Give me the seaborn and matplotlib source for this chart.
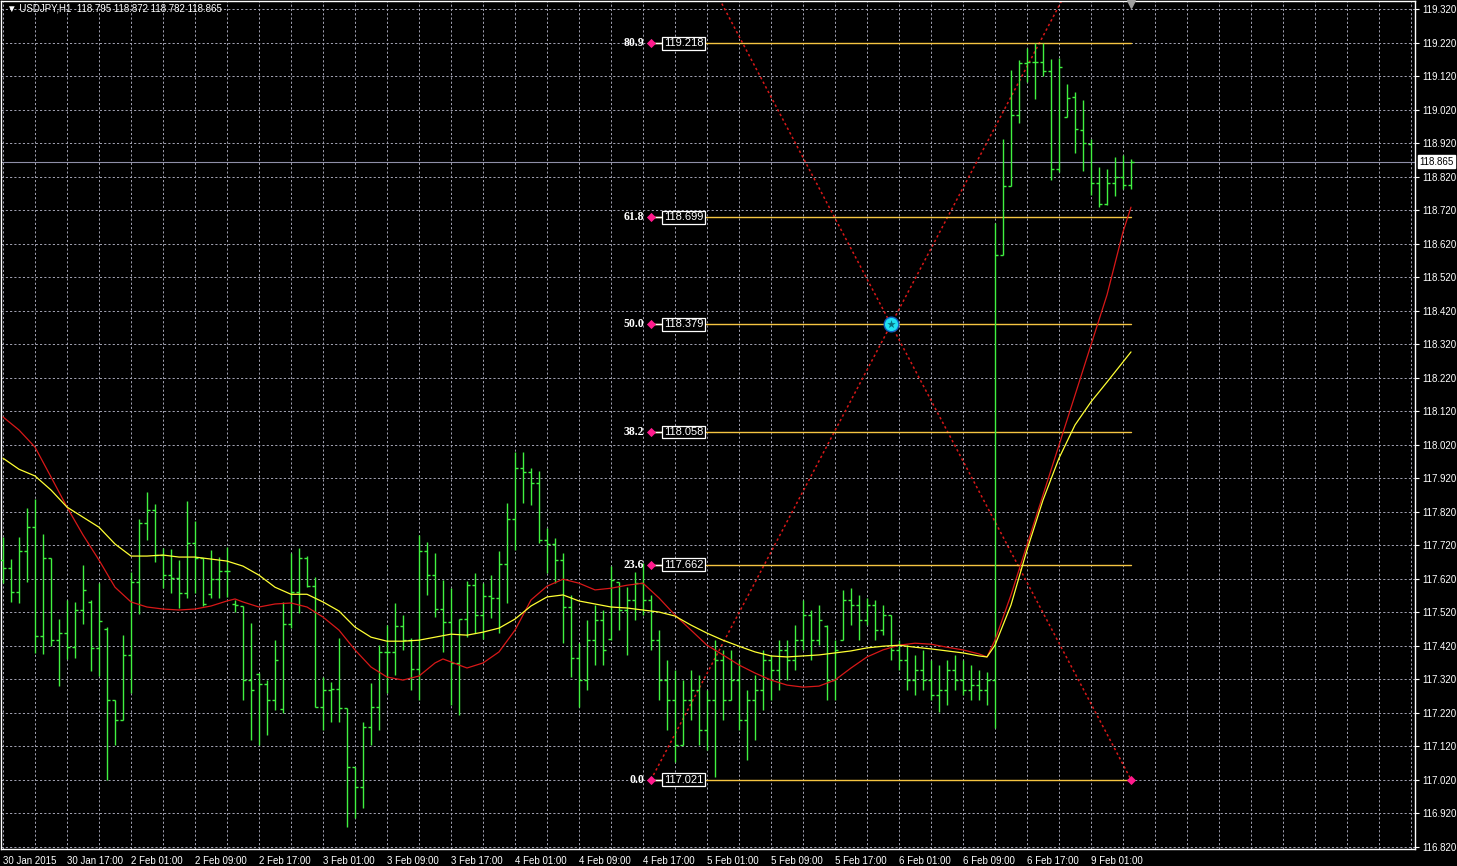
import numpy as np
import pandas as pd
import matplotlib
matplotlib.use('Agg')
import matplotlib.pyplot as plt
import seaborn as sns

# === Data: USDJPY H1 bars, index 0 = 30 Jan 2015 09:00 === #
open_ = [117.676, 117.652, 117.581, 117.703, 117.775, 117.449, 117.682, 117.437, 117.458, 117.416,
         117.527, 117.550, 117.413, 117.470, 117.258, 117.199, 117.393, 117.610, 117.786, 117.825,
         117.691, 117.631, 117.622, 117.578, 117.727, 117.682, 117.575, 117.619, 117.643, 117.545,
         117.539, 117.318, 117.336, 117.306, 117.258, 117.232, 117.485, 117.581, 117.682, 117.598,
         117.238, 117.288, 117.291, 117.235, 117.059, 116.999, 117.178, 117.238, 117.402, 117.402,
         117.479, 117.437, 117.351, 117.703, 117.631, 117.530, 117.491, 117.369, 117.500, 117.601,
         117.512, 117.569, 117.563, 117.664, 117.798, 117.950, 117.938, 117.906, 117.736, 117.724,
         117.676, 117.536, 117.384, 117.318, 117.437, 117.497, 117.440, 117.610, 117.527, 117.557,
         117.607, 117.557, 117.437, 117.318, 117.258, 117.124, 117.258, 117.288, 117.169, 117.258,
         117.378, 117.258, 117.318, 117.199, 117.258, 117.288, 117.378, 117.348, 117.408, 117.378,
         117.437, 117.512, 117.437, 117.480, 117.318, 117.437, 117.557, 117.542, 117.497, 117.542,
         117.467, 117.512, 117.408, 117.378, 117.318, 117.348, 117.318, 117.273, 117.288, 117.348,
         117.318, 117.288, 117.303, 117.288, 117.318, 118.586, 118.792, 119.004, 119.159, 119.162,
         119.162, 119.135, 118.843, 118.998, 119.058, 118.959, 118.917, 118.801, 118.738, 118.801,
         118.819, 118.795]
high = [117.745, 117.679, 117.745, 117.831, 117.858, 117.754, 117.682, 117.500, 117.557, 117.551,
        117.661, 117.557, 117.607, 117.476, 117.258, 117.452, 117.640, 117.798, 117.879, 117.843,
        117.712, 117.709, 117.676, 117.852, 117.792, 117.682, 117.706, 117.685, 117.715, 117.557,
        117.539, 117.488, 117.339, 117.318, 117.437, 117.551, 117.697, 117.712, 117.688, 117.625,
        117.327, 117.312, 117.443, 117.235, 117.059, 117.193, 117.309, 117.422, 117.482, 117.548,
        117.512, 117.443, 117.751, 117.730, 117.697, 117.616, 117.593, 117.500, 117.613, 117.637,
        117.607, 117.631, 117.703, 117.846, 117.998, 117.998, 117.950, 117.941, 117.771, 117.742,
        117.697, 117.572, 117.428, 117.497, 117.542, 117.527, 117.658, 117.610, 117.595, 117.640,
        117.667, 117.572, 117.467, 117.378, 117.348, 117.318, 117.348, 117.333, 117.288, 117.437,
        117.408, 117.408, 117.378, 117.288, 117.333, 117.408, 117.393, 117.437, 117.437, 117.482,
        117.557, 117.527, 117.542, 117.482, 117.437, 117.587, 117.593, 117.572, 117.563, 117.557,
        117.542, 117.512, 117.437, 117.422, 117.393, 117.408, 117.378, 117.363, 117.378, 117.393,
        117.378, 117.363, 117.348, 117.342, 118.682, 118.932, 119.138, 119.168, 119.204, 119.219,
        119.218, 119.171, 119.174, 119.096, 119.072, 119.049, 118.932, 118.849, 118.843, 118.879,
        118.885, 118.872]
low = [117.607, 117.551, 117.548, 117.610, 117.399, 117.396, 117.419, 117.300, 117.381, 117.384,
       117.485, 117.345, 117.330, 117.020, 117.124, 117.199, 117.279, 117.515, 117.736, 117.670,
       117.593, 117.578, 117.533, 117.563, 117.578, 117.539, 117.563, 117.563, 117.566, 117.521,
       117.258, 117.139, 117.124, 117.154, 117.229, 117.220, 117.473, 117.518, 117.596, 117.238,
       117.169, 117.193, 117.193, 116.880, 116.906, 116.936, 117.124, 117.169, 117.279, 117.333,
       117.408, 117.288, 117.258, 117.572, 117.506, 117.402, 117.243, 117.214, 117.446, 117.458,
       117.440, 117.503, 117.458, 117.548, 117.706, 117.846, 117.840, 117.727, 117.637, 117.607,
       117.428, 117.327, 117.238, 117.288, 117.363, 117.363, 117.437, 117.467, 117.393, 117.497,
       117.512, 117.408, 117.258, 117.169, 117.073, 117.124, 117.199, 117.124, 117.109, 117.029,
       117.199, 117.258, 117.169, 117.079, 117.139, 117.229, 117.258, 117.288, 117.318, 117.348,
       117.408, 117.378, 117.422, 117.258, 117.258, 117.437, 117.482, 117.437, 117.482, 117.437,
       117.452, 117.378, 117.348, 117.288, 117.273, 117.288, 117.258, 117.223, 117.243, 117.288,
       117.273, 117.258, 117.258, 117.243, 117.175, 118.586, 118.792, 118.980, 119.102, 119.052,
       119.120, 118.810, 118.834, 118.998, 118.891, 118.837, 118.765, 118.729, 118.735, 118.762,
       118.783, 118.782]
close = [117.652, 117.581, 117.703, 117.775, 117.449, 117.682, 117.437, 117.458, 117.416, 117.527,
         117.587, 117.413, 117.494, 117.258, 117.199, 117.393, 117.610, 117.786, 117.825, 117.691,
         117.631, 117.622, 117.578, 117.727, 117.682, 117.545, 117.619, 117.643, 117.643, 117.542,
         117.318, 117.288, 117.306, 117.258, 117.378, 117.485, 117.581, 117.682, 117.598, 117.238,
         117.288, 117.291, 117.235, 117.059, 116.999, 117.178, 117.238, 117.402, 117.402, 117.479,
         117.437, 117.351, 117.703, 117.631, 117.530, 117.491, 117.369, 117.500, 117.601, 117.512,
         117.569, 117.563, 117.664, 117.798, 117.950, 117.938, 117.906, 117.736, 117.724, 117.676,
         117.536, 117.384, 117.318, 117.437, 117.497, 117.408, 117.616, 117.527, 117.557, 117.607,
         117.557, 117.437, 117.318, 117.258, 117.124, 117.258, 117.288, 117.169, 117.258, 117.378,
         117.258, 117.318, 117.199, 117.258, 117.288, 117.378, 117.348, 117.408, 117.378, 117.437,
         117.512, 117.437, 117.497, 117.318, 117.408, 117.557, 117.542, 117.497, 117.542, 117.467,
         117.512, 117.408, 117.378, 117.318, 117.348, 117.318, 117.273, 117.288, 117.348, 117.318,
         117.288, 117.303, 117.288, 117.318, 118.586, 118.792, 119.004, 119.159, 119.162, 119.162,
         119.135, 118.843, 119.147, 119.055, 118.962, 118.920, 118.801, 118.738, 118.801, 118.819,
         118.795, 118.865]

# moving averages (fast = red, slow = yellow), read at selected bars
red_idx = [0, 2, 4, 6, 8, 10, 12, 14, 16, 18, 20, 22, 24, 26, 28, 29, 30, 32, 34, 36,
           38, 40, 42, 44, 46, 48, 50, 52, 54, 55, 56, 58, 60, 62, 64, 66, 68, 70, 72, 74,
           76, 78, 80, 82, 84, 86, 88, 90, 92, 94, 96, 98, 100, 102, 104, 106, 108, 110, 112, 114,
           116, 118, 120, 122, 123, 124, 126, 128, 130, 132, 134, 136, 138, 140, 141]
red_val = [118.103, 118.064, 118.013, 117.924, 117.834, 117.751, 117.676, 117.595, 117.551, 117.536,
           117.530, 117.527, 117.530, 117.539, 117.554, 117.560, 117.551, 117.536, 117.545, 117.548,
           117.536, 117.506, 117.467, 117.408, 117.357, 117.327, 117.318, 117.330, 117.369, 117.381,
           117.372, 117.354, 117.369, 117.402, 117.467, 117.557, 117.598, 117.619, 117.607, 117.587,
           117.592, 117.601, 117.607, 117.563, 117.512, 117.467, 117.422, 117.393, 117.363, 117.339,
           117.318, 117.303, 117.297, 117.300, 117.318, 117.354, 117.387, 117.408, 117.422, 117.428,
           117.425, 117.416, 117.408, 117.396, 117.387, 117.437, 117.572, 117.721, 117.870, 118.019,
           118.168, 118.318, 118.467, 118.655, 118.729]
yel_idx = [0, 2, 4, 6, 8, 10, 12, 14, 16, 18, 20, 22, 24, 26, 28, 30, 32, 34, 36, 38,
           40, 42, 44, 46, 48, 50, 52, 54, 56, 58, 60, 62, 64, 66, 68, 70, 72, 74, 76, 78,
           80, 82, 84, 86, 88, 90, 92, 94, 96, 98, 100, 102, 104, 106, 108, 110, 112, 114, 116, 118,
           120, 122, 123, 124, 126, 128, 130, 132, 134, 136, 138, 140, 141]
yel_val = [117.980, 117.947, 117.927, 117.885, 117.834, 117.804, 117.774, 117.724, 117.688, 117.688,
           117.691, 117.685, 117.685, 117.679, 117.673, 117.658, 117.631, 117.595, 117.574, 117.574,
           117.551, 117.524, 117.476, 117.446, 117.434, 117.434, 117.437, 117.446, 117.455, 117.452,
           117.461, 117.473, 117.500, 117.539, 117.566, 117.572, 117.554, 117.545, 117.536, 117.533,
           117.527, 117.521, 117.509, 117.482, 117.458, 117.437, 117.419, 117.402, 117.390, 117.387,
           117.390, 117.393, 117.399, 117.405, 117.414, 117.419, 117.422, 117.416, 117.411, 117.405,
           117.399, 117.390, 117.387, 117.422, 117.542, 117.706, 117.855, 117.980, 118.079, 118.148,
           118.207, 118.267, 118.297]

# fibonacci object
fib_start, fib_end = 81, 141
fib_names = ['0.0', '23.6', '38.2', '50.0', '61.8', '80.9']
fib_prices = [117.021, 117.662, 118.058, 118.379, 118.699, 119.218]
fib_low, fib_high = 117.021, 119.737

time_labels = ['30 Jan 2015', '30 Jan 17:00', '2 Feb 01:00', '2 Feb 09:00', '2 Feb 17:00',
               '3 Feb 01:00', '3 Feb 09:00', '3 Feb 17:00', '4 Feb 01:00', '4 Feb 09:00',
               '4 Feb 17:00', '5 Feb 01:00', '5 Feb 09:00', '5 Feb 17:00', '6 Feb 01:00',
               '6 Feb 09:00', '6 Feb 17:00', '9 Feb 01:00']
last_price = 118.865
header = '\u25bc USDJPY,H1  118.795 118.872 118.782 118.865'

df = pd.DataFrame({'open': open_, 'high': high, 'low': low, 'close': close})
df['bar'] = np.arange(len(df))

# === Style === #
sns.set_style('dark', {'axes.facecolor': 'black', 'figure.facecolor': 'black'})
plt.rcParams['font.family'] = ['Liberation Sans', 'DejaVu Sans']

GREEN = '#40f040'
GRID = '#a4a4b4'
FIB = '#f5c542'
PINK = '#ff1a8c'
RED = '#d81818'

fig = plt.figure(figsize=(14.57, 8.66), dpi=100, facecolor='black')
ax = fig.add_axes([1 / 1457, 17 / 866, 1414 / 1457, 848 / 866])
ax.set_facecolor('black')
ax.set_xlim(-0.25, 176.5)
ax.set_ylim(116.814, 119.344)

# grid
yt = np.round(np.arange(116.82, 119.33, 0.1), 3)
ax.set_yticks(yt)
ax.set_yticklabels([f'{v:.3f}' for v in yt])
ax.set_xticks(np.arange(0, 137, 8))
ax.set_xticklabels(time_labels)
ax.set_xticks(np.arange(0, 177, 4), minor=True)
ax.grid(True, which='both', color=GRID, linestyle=(0, (2.2, 2.2)), linewidth=0.7)
ax.set_axisbelow(True)

# current price line
ax.axhline(last_price, color='#8f8fa8', linewidth=0.8, zorder=1)

# OHLC bars
bar_kw = dict(color=GREEN, linewidth=1.0, zorder=3)
ax.vlines(df['bar'], df['low'], df['high'], **bar_kw)
ax.hlines(df['open'], df['bar'] - 0.4, df['bar'], **bar_kw)
ax.hlines(df['close'], df['bar'], df['bar'] + 0.4, **bar_kw)

# moving averages
sns.lineplot(x=red_idx, y=red_val, color=RED, linewidth=0.9, ax=ax, zorder=4)
sns.lineplot(x=yel_idx, y=yel_val, color='#ffff33', linewidth=0.9, ax=ax, zorder=4)

# crossing trend lines of the fibo object
ax.plot([fib_start, fib_end], [fib_low, fib_high], color=RED, linewidth=1.1,
        linestyle=(0, (1.6, 1.8)), zorder=2)
ax.plot([fib_start, fib_end], [fib_high, fib_low], color=RED, linewidth=1.1,
        linestyle=(0, (1.6, 1.8)), zorder=2)

# fib levels
for name, lv in zip(fib_names, fib_prices):
    ax.plot([fib_start, fib_end], [lv, lv], color=FIB, linewidth=1, zorder=2)
    ax.plot([fib_start, fib_start + 1.5], [lv, lv], color='white', linewidth=1, zorder=5)
    ax.text(fib_start + 1.6, lv, f'{lv:.3f}', color='white', fontsize=8, ha='left', va='center',
            zorder=6, bbox=dict(boxstyle='square,pad=0.12', fc='black', ec='white', lw=0.9))
    ax.annotate(name, (fib_start, lv), xytext=(-7, 0), textcoords='offset pixels',
                ha='right', va='center', color='white', fontsize=8.5, fontweight='bold',
                family='Liberation Serif', zorder=6)
    ax.scatter([fib_start], [lv], marker='D', s=22, color=PINK, zorder=7, linewidths=0)
ax.scatter([fib_end], [fib_low], marker='D', s=22, color=PINK, zorder=7, linewidths=0)

# centre marker of the crossing lines
mid = (fib_start + fib_end) / 2
ax.scatter([mid], [fib_prices[3]], marker='o', s=110, color='#20e0f0', edgecolors='#1060c0',
           linewidths=1, zorder=8)
ax.scatter([mid], [fib_prices[3]], marker='*', s=40, color='#0a7080', linewidths=0, zorder=9)

# chart shift marker
ax.scatter([fib_end], [119.336], marker='v', s=30, color='#a0a0a0', zorder=9, clip_on=False)

# header text
ax.text(0.004, 0.9915, header, transform=ax.transAxes, color='white', fontsize=7,
        ha='left', va='center', zorder=10)

# axes styling
for s in ax.spines.values():
    s.set_color('white')
    s.set_linewidth(1)
ax.yaxis.tick_right()
ax.tick_params(axis='y', which='major', colors='white', labelsize=7, length=3, pad=2, direction='out')
ax.tick_params(axis='x', which='major', colors='white', labelsize=7, length=4, pad=1, direction='out')
ax.tick_params(axis='x', which='minor', length=0)
for lab in ax.get_xticklabels():
    lab.set_ha('left')
ax.set_xlabel('')
ax.set_ylabel('')

# current price tag on the price scale
ax.text(1.0028, last_price, f'{last_price:.3f}', transform=ax.get_yaxis_transform(),
        color='black', fontsize=7, ha='left', va='center', clip_on=False,
        bbox=dict(boxstyle='square,pad=0.15', fc='white', ec='white'))

fig.savefig('out.png', dpi=100, facecolor='black')
